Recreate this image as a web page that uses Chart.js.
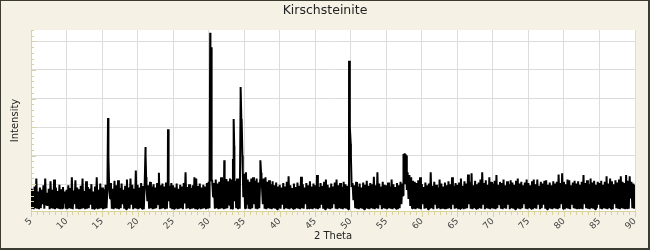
<!DOCTYPE html>
<html lang="en">
<head>
    <meta charset="UTF-8">
    <title>Kirschsteinite</title>
    <script src="https://cdn.jsdelivr.net/npm/chart.js"></script>
    <style>
        html, body { margin: 0; padding: 0; background: #f5f2e5; }
        #wrap { width: 650px; height: 250px; }
    </style>
</head>
<body>
    <div id="wrap"><canvas id="xrd" width="650" height="250"></canvas></div>

    <script>
        // 2 Theta grid of the background scan
        const bgStart = 5;
        const bgStep = 0.25;

        // background: local maxima per 0.25 deg bin
        const bgHigh = [
            42, 39, 46, 60, 37, 44, 40, 48, 60, 35, 42, 55, 40, 58, 44, 38, 49, 41, 45, 37,
            40, 48, 43, 62, 39, 57, 44, 41, 47, 60, 38, 55, 45, 42, 50, 37, 46, 62, 40, 51,
            44, 41, 49, 40, 46, 52, 42, 56, 48, 57, 43, 51, 40, 47, 58, 44, 60, 49, 42, 74,
            49, 44, 52, 47, 51, 45, 48, 54, 46, 50, 44, 52, 70, 48, 51, 46, 53, 49, 47, 52,
            48, 44, 51, 42, 49, 46, 52, 71, 45, 50, 43, 48, 62, 60, 47, 51, 44, 49, 46, 52,
            54, 280, 56, 52, 58, 51, 54, 62, 57, 53, 59, 55, 60, 58, 90, 56, 60, 58, 200, 100,
            68, 71, 58, 54, 60, 62, 56, 60, 53, 58, 62, 60, 62, 54, 57, 50, 55, 48, 53, 46,
            49, 44, 52, 46, 54, 64, 48, 43, 51, 45, 53, 47, 63, 50, 44, 52, 48, 55, 46, 51,
            48, 66, 45, 52, 47, 54, 58, 49, 44, 51, 46, 53, 58, 48, 52, 45, 54, 50, 47, 56,
            120, 52, 48, 54, 46, 51, 44, 53, 49, 56, 47, 52, 50, 63, 48, 71, 51, 46, 54, 49,
            48, 53, 46, 58, 50, 45, 52, 48, 54, 51, 95, 98, 70, 66, 62, 56, 54, 52, 57, 62,
            50, 45, 53, 48, 51, 71, 47, 54, 49, 44, 58, 51, 46, 53, 48, 55, 50, 62, 47, 52,
            49, 53, 60, 47, 55, 51, 67, 54, 69, 48, 56, 50, 53, 58, 71, 52, 57, 49, 62, 54,
            51, 56, 66, 49, 54, 52, 58, 48, 55, 50, 57, 53, 49, 56, 60, 51, 54, 48, 53, 58,
            52, 48, 55, 58, 50, 58, 47, 54, 51, 56, 57, 49, 53, 48, 55, 51, 54, 67, 52, 69,
            54, 50, 58, 57, 48, 53, 56, 51, 55, 49, 54, 66, 52, 57, 50, 60, 53, 56, 49, 54,
            52, 56, 49, 54, 64, 51, 60, 55, 50, 57, 53, 58, 64, 54, 52, 66, 56, 64, 54, 51,
            49
        ];

        // background: local minima, half a bin after each maximum
        const bgLow = [
            7, 6, 8, 7, 6, 8, 15, 7, 14, 12, 6, 8, 7, 6, 8, 7, 6, 8, 16, 7,
            6, 8, 7, 6, 15, 7, 8, 6, 7, 8, 6, 7, 8, 14, 6, 7, 8, 6, 7, 8,
            6, 7, 8, 90, 25, 7, 6, 8, 7, 6, 8, 15, 7, 6, 8, 7, 14, 6, 8, 7,
            6, 8, 7, 6, 100, 20, 7, 8, 6, 7, 8, 15, 6, 7, 8, 6, 7, 20, 8, 6,
            7, 8, 6, 7, 8, 6, 16, 7, 8, 6, 7, 8, 6, 7, 8, 6, 7, 8, 6, 7,
            8, 55, 28, 7, 8, 6, 7, 8, 6, 7, 8, 14, 6, 7, 20, 8, 6, 7, 150, 27,
            8, 14, 7, 6, 8, 15, 7, 6, 8, 70, 15, 7, 6, 8, 7, 6, 8, 7, 6, 8,
            7, 14, 6, 8, 7, 6, 8, 7, 6, 8, 7, 6, 8, 7, 15, 6, 8, 7, 6, 8,
            7, 6, 8, 14, 7, 6, 8, 7, 6, 8, 15, 7, 6, 8, 7, 6, 8, 7, 6, 150,
            45, 22, 8, 7, 6, 8, 7, 6, 8, 7, 6, 8, 7, 6, 8, 7, 15, 6, 8, 7,
            6, 8, 7, 6, 8, 7, 6, 8, 15, 30, 50, 40, 24, 12, 8, 7, 6, 8, 7, 6,
            15, 7, 8, 6, 7, 8, 6, 14, 7, 8, 6, 7, 8, 6, 7, 8, 6, 14, 7, 8,
            6, 7, 8, 6, 7, 8, 15, 7, 6, 8, 7, 6, 8, 7, 14, 6, 8, 7, 6, 8,
            7, 6, 8, 15, 7, 6, 8, 7, 14, 6, 8, 7, 6, 8, 7, 6, 8, 15, 7, 6,
            8, 7, 6, 8, 7, 14, 6, 8, 14, 7, 6, 8, 7, 6, 8, 7, 6, 8, 15, 7,
            6, 8, 7, 6, 14, 8, 7, 6, 8, 7, 6, 15, 8, 7, 6, 8, 7, 6, 8, 14,
            7, 6, 8, 7, 6, 8, 7, 6, 15, 8, 7, 6, 8, 7, 6, 8, 7, 25, 8, 7
        ];

        // diffraction peaks
        const peakTheta = [15.84, 15.92, 21.12, 21.2, 24.28, 24.35, 30.22, 30.36, 30.46, 32.2,
                           33.42, 33.52, 33.6, 34.5, 34.64, 34.8, 37.28, 37.38, 49.76, 49.86,
                           50.02, 57.42, 57.55, 57.68, 57.78, 57.9];
        const peakValue = [166, 97, 115, 62, 146, 72, 315, 290, 58, 92,
                           94, 164, 117, 220, 164, 73, 92, 69, 266, 192,
                           99, 103, 104, 102, 100, 71];

        // axis
        const xMin = 5, xMax = 90, xStep = 5;
        const yMin = 3, yMax = 320, yStep = 50;

        const khaki = '#d9d29c';
        const fontFamily = "'DejaVu Sans', Verdana, sans-serif";

        // merge everything into one scan, sorted by angle
        const scan = [];
        bgHigh.forEach((v, i) => {
            const t = bgStart + i * bgStep;
            scan.push({ x: t, y: v });
            if (i < bgLow.length) scan.push({ x: t + bgStep / 2, y: bgLow[i] });
        });
        peakTheta.forEach((t, i) => scan.push({ x: t, y: peakValue[i] }));
        scan.sort((a, b) => a.x - b.x);

        // frame, plot background and minor tick marks
        const framePlugin = {
            id: 'frame',
            beforeDraw(chart) {
                const { ctx, chartArea: a, width, height } = chart;
                ctx.save();
                ctx.fillStyle = '#f5f2e5';
                ctx.fillRect(0, 0, width, height);
                ctx.fillStyle = '#ffffff';
                ctx.fillRect(a.left, a.top, a.right - a.left, a.bottom - a.top);
                ctx.fillStyle = '#3c3b32';
                ctx.fillRect(0, 0, width, 1);
                ctx.fillRect(0, 0, 1, height);
                ctx.fillRect(width - 2, 0, 2, height);
                ctx.fillRect(0, height - 2, width, 2);
                ctx.restore();
            },
            afterDraw(chart) {
                const { ctx, chartArea: a, scales } = chart;
                ctx.save();
                ctx.strokeStyle = khaki;
                ctx.lineWidth = 1;
                ctx.beginPath();
                // y: every 10, inward
                for (let v = 10; v <= yMax; v += 10) {
                    const y = Math.round(scales.y.getPixelForValue(v)) + 0.5;
                    const len = v % yStep === 0 ? 5 : 3;
                    ctx.moveTo(a.left, y);
                    ctx.lineTo(a.left + len, y);
                }
                // x: six divisions per label, outward
                for (let k = 0; k <= (xMax - xMin) / xStep * 6; k++) {
                    const x = Math.round(scales.x.getPixelForValue(xMin + k * xStep / 6)) + 0.5;
                    const len = k % 6 === 0 ? 6 : 4;
                    ctx.moveTo(x, a.bottom);
                    ctx.lineTo(x, a.bottom + len);
                }
                ctx.stroke();
                ctx.restore();
            }
        };

        new Chart(document.getElementById('xrd'), {
            type: 'line',
            data: {
                datasets: [{
                    data: scan,
                    borderColor: '#000000',
                    borderWidth: 2,
                    borderJoinStyle: 'bevel',
                    pointRadius: 0,
                    tension: 0,
                    fill: false
                }]
            },
            options: {
                responsive: false,
                animation: false,
                parsing: false,
                layout: { padding: 0 },
                scales: {
                    x: {
                        type: 'linear',
                        min: xMin,
                        max: xMax,
                        afterFit: (s) => { s.height = 39; },
                        grid: { color: '#dcdcdc', drawTicks: false },
                        border: { color: khaki },
                        ticks: {
                            stepSize: xStep,
                            autoSkip: false,
                            minRotation: 45,
                            maxRotation: 45,
                            padding: 5,
                            color: '#444',
                            font: { family: fontFamily, size: 9 }
                        },
                        title: {
                            display: true,
                            text: '2 Theta',
                            color: '#222',
                            font: { family: fontFamily, size: 10 },
                            padding: { top: 0, bottom: 8 }
                        }
                    },
                    y: {
                        min: yMin,
                        max: yMax,
                        afterFit: (s) => { s.width = 31; },
                        grid: { color: '#dcdcdc', drawTicks: false },
                        border: { color: khaki },
                        ticks: { display: false, stepSize: yStep, includeBounds: false },
                        title: {
                            display: true,
                            text: 'Intensity',
                            color: '#222',
                            font: { family: fontFamily, size: 10 },
                            padding: { top: 9, bottom: 0 }
                        }
                    },
                    // empty strip on the right, keeps the title centred on the page
                    edge: {
                        type: 'linear',
                        position: 'right',
                        afterFit: (s) => { s.width = 15; },
                        grid: { display: false },
                        border: { display: false },
                        ticks: { display: false }
                    }
                },
                plugins: {
                    legend: { display: false },
                    tooltip: { enabled: false },
                    title: {
                        display: true,
                        text: 'Kirschsteinite',
                        color: '#222',
                        font: { family: fontFamily, size: 12.5, weight: 'normal' },
                        padding: { top: 3, bottom: 12 }
                    }
                }
            },
            plugins: [framePlugin]
        });
    </script>
</body>
</html>
